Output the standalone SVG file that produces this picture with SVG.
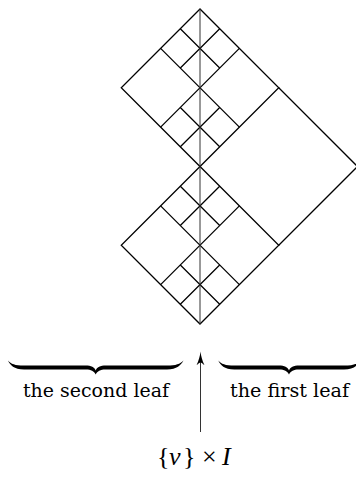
<svg xmlns="http://www.w3.org/2000/svg" width="356" height="478" viewBox="0 0 356 478">
<style>
.ln{fill:none;stroke:#000;stroke-width:1.25;stroke-linecap:butt;stroke-linejoin:miter}
.axis{fill:none;stroke:#333;stroke-width:1}
.brace{fill:#000;stroke:none}
.lbl{font-family:"DejaVu Serif","Liberation Serif",serif;font-size:19px;fill:#000}
</style>
<rect width="356" height="478" fill="#fff"/>
<g id="foliation">
  <g id="upper-square">
    <path class="ln" d="M200,9 L121.25,87.75 L200,166.5 L278.75,87.75 Z"/>
    <path class="ln" d="M160.625,48.375 L239.375,127.125 M239.375,48.375 L160.625,127.125"/>
    <path class="ln" d="M180.3125,28.6875 L219.6875,68.0625 M219.6875,28.6875 L180.3125,68.0625"/>
    <path class="ln" d="M180.3125,107.4375 L219.6875,146.8125 M219.6875,107.4375 L180.3125,146.8125"/>
  </g>
  <g id="lower-square">
    <path class="ln" d="M200,166.5 L121.25,245.25 L200,324 L278.75,245.25 Z"/>
    <path class="ln" d="M160.625,205.875 L239.375,284.625 M239.375,205.875 L160.625,284.625"/>
    <path class="ln" d="M180.3125,186.1875 L219.6875,225.5625 M219.6875,186.1875 L180.3125,225.5625"/>
    <path class="ln" d="M180.3125,264.9375 L219.6875,304.3125 M219.6875,264.9375 L180.3125,304.3125"/>
  </g>
  <g id="right-square">
    <path class="ln" d="M278.75,87.75 L357.5,166.5 L278.75,245.25"/>
  </g>
  <g id="vertical-axis">
    <path class="axis" d="M200,9 V324"/>
  </g>
</g>
<g id="brace-second">
  <path class="brace" d="M8,360.5 C10,365 14,369.5 24,369.5 L86,369.5 C91,369.5 94,371 95.7,374.5 C97.4,371 100.4,369.5 105.4,369.5 L167,369.5 C177,369.5 181,365 183.5,360.5 C180,364 176,365.6 167,365.6 L106,365.6 C100,365.6 97,367.5 95.7,370.5 C94.4,367.5 91.4,365.6 85.4,365.6 L24,365.6 C15,365.6 11,364 8,360.5 Z"/>
  <text class="lbl" x="96" y="396.7" text-anchor="middle" textLength="146" lengthAdjust="spacingAndGlyphs">the second leaf</text>
</g>
<g id="brace-first">
  <path class="brace" d="M218.3,360.5 C220.3,365 224.3,369.5 234.3,369.5 L279.3,369.5 C284.3,369.5 287.3,371 289,374.5 C290.7,371 293.7,369.5 298.7,369.5 L344,369.5 C354,369.5 358,365 360.5,360.5 C357,364 353,365.6 344,365.6 L299.3,365.6 C293.3,365.6 290.3,367.5 289,370.5 C287.7,367.5 284.7,365.6 278.7,365.6 L234.3,365.6 C225.3,365.6 221.3,364 218.3,360.5 Z"/>
  <text class="lbl" x="289.5" y="396.7" text-anchor="middle" textLength="119" lengthAdjust="spacingAndGlyphs">the first leaf</text>
</g>
<g id="connectors">
  <path class="axis" d="M200.5,432 V358"/>
  <path fill="#000" d="M200.5,351.5 C201,356 202.3,360.8 204.4,365 C202.6,363.6 201.6,362.6 200.5,362.4 C199.4,362.6 198.4,363.6 196.6,365 C198.7,360.8 200,356 200.5,351.5 Z"/>
</g>
<g id="label-v-times-I">
  <text font-family="Liberation Serif, Times New Roman, serif" font-size="26" fill="#000" y="464.5"><tspan x="157">{</tspan><tspan x="169" font-style="italic">v</tspan><tspan x="183">}</tspan><tspan x="202">×</tspan><tspan x="222" font-style="italic">I</tspan></text>
</g>
</svg>
